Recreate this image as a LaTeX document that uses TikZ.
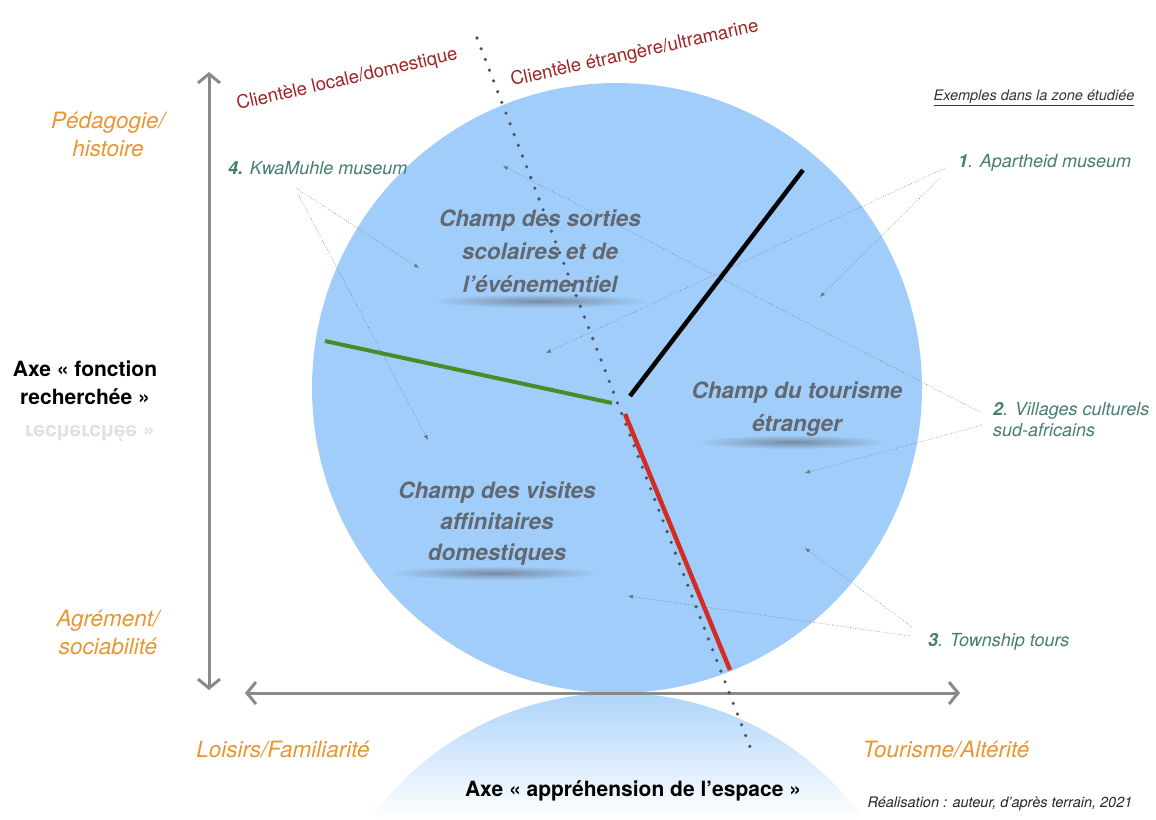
\documentclass[tikz,border=0pt]{standalone}
\usepackage{fontspec}
\setmainfont{TeX Gyre Heros}
\usetikzlibrary{arrows.meta,shapes.geometric}
\definecolor{circ}{RGB}{160,205,250}
\definecolor{axisgray}{RGB}{138,138,138}
\definecolor{dotc}{RGB}{75,85,95}
\definecolor{orangec}{RGB}{232,150,50}
\definecolor{clientc}{RGB}{160,35,35}
\definecolor{tealc}{RGB}{70,125,115}
\definecolor{champc}{RGB}{98,104,114}
\definecolor{greenl}{RGB}{70,140,40}
\definecolor{redl}{RGB}{210,45,35}
\definecolor{thinc}{RGB}{110,115,120}
\begin{document}
\begin{tikzpicture}[x=1pt,y=-1pt,
  axisline/.style={draw=axisgray,line width=3pt,{Straight Barb[length=9pt,width=22pt,line width=3pt]}-{Straight Barb[length=9pt,width=22pt,line width=3pt]}},
  dotline/.style={draw=dotc,line width=3.6pt,line cap=round,dash pattern=on 0pt off 11.5pt},
  pointer/.style={draw=thinc,line width=0.6pt,dotted,-{Latex[length=5pt,width=4pt]}},
  clientlbl/.style={text=clientc,font=\fontsize{18.5}{22}\selectfont,anchor=base west,inner sep=0pt},
  poletxt/.style={text=orangec,font=\fontsize{22.5}{28}\selectfont\itshape,align=center},
  example/.style={text=tealc,font=\fontsize{18}{21}\selectfont\itshape,align=left,anchor=west,inner sep=0pt},
  champ/.style={text=champc,font=\fontsize{22.5}{33}\selectfont\bfseries\itshape,align=center},
  axelbl/.style={text=black,font=\fontsize{21}{28}\selectfont\bfseries,align=center},
  shadowell/.style={inner color=champc!65!circ,outer color=circ}
]
\useasboundingbox (0,0) rectangle (1156,819);

% reflection of the disc below the horizontal axis
\begin{scope}
  \clip (617,998) circle (305pt);
  \shade[top color=circ!85,bottom color=white] (300,694) rectangle (940,819);
\end{scope}

% main disc
\node[circle,fill=circ,minimum size=610pt,inner sep=0pt] (disc) at (617,388) {};

% shadows under the field titles
\shade[shadowell] (540,301) ellipse (110pt and 7pt);
\shade[shadowell] (792,442) ellipse (95pt and 7pt);
\shade[shadowell] (495,573) ellipse (105pt and 7pt);

% axes
\coordinate (vtop) at (209,72);
\coordinate (vbot) at (209,690);
\coordinate (hleft) at (245,693);
\coordinate (hright) at (960,693);
\draw[axisline] (vbot) -- (vtop);
\draw[axisline] (hleft) -- (hright);

% dotted separator
\coordinate (dtop) at (477,38);
\coordinate (dbot) at (752,752);
\draw[dotline] (dtop) -- (dbot);

% coloured field boundaries
\coordinate (bk1) at (630,396);
\coordinate (bk2) at (803,170);
\coordinate (gr1) at (325,341);
\coordinate (gr2) at (612,403);
\coordinate (rd1) at (625,414);
\coordinate (rd2) at (730,670);
\draw[black,line width=4.5pt] (bk1) -- (bk2);
\draw[greenl,line width=4pt] (gr1) -- (gr2);
\draw[redl,line width=4.5pt] (rd1) -- (rd2);

% clientele labels
\node[clientlbl,rotate=13] (cloc) at (238,110) {Clientèle locale/domestique};
\node[clientlbl,rotate=12.5] (cetr) at (512,86) {Clientèle étrangère/ultramarine};

% pole labels
\node[poletxt] (peda) at (108,134) {Pédagogie/\\histoire};
\node[poletxt] (agre) at (108,632) {Agrément/\\sociabilité};
\node[poletxt] (lois) at (283,750) {Loisirs/Familiarité};
\node[poletxt] (tour) at (946,750) {Tourisme/Altérité};

% axis labels
\node[axelbl] (axf) at (85,383) {Axe « fonction\\recherchée »};
\node[axelbl,text=black!12,yscale=-1] (axfr) at (90,433) {recherchée »};
\node[axelbl] (axe) at (633,791) {Axe « appréhension de l’espace »};

% field titles
\node[champ] (cs) at (540,251) {Champ des sorties\\scolaires et de\\l’événementiel};
\node[champ] (ct) at (797,409) {Champ du tourisme\\étranger};
\node[champ,font=\fontsize{22.5}{31}\selectfont\bfseries\itshape] (cv) at (497,524) {Champ des visites\\affinitaires\\domestiques};

% examples
\node[font=\fontsize{14.5}{16}\selectfont\itshape,text=black!80] (exh) at (1034,98) {\underline{Exemples dans la zone étudiée}};
\node[example] (ex4) at (228,168) {\textbf{4.} KwaMuhle museum};
\node[example] (ex1) at (958,163) {\textbf{1}. Apartheid museum};
\node[example] (ex2) at (993,420) {\textbf{2}. Villages culturels\\sud-africains};
\node[example] (ex3) at (928,642) {\textbf{3}. Township tours};
\node[font=\fontsize{14.5}{16}\selectfont\itshape,text=black!85] (real) at (1000,804) {Réalisation : auteur, d’après terrain, 2021};

% pointers
\coordinate (p4a) at (296,188);
\coordinate (p4b) at (298,194);
\coordinate (t4a) at (419,268);
\coordinate (t4b) at (428,440);
\draw[pointer] (p4a) -- (t4a);
\draw[pointer] (p4b) -- (t4b);

\coordinate (p1a) at (945,168);
\coordinate (p1b) at (940,178);
\coordinate (t1a) at (546,353);
\coordinate (t1b) at (820,297);
\draw[pointer] (p1a) -- (t1a);
\draw[pointer] (p1b) -- (t1b);

\coordinate (p2a) at (980,412);
\coordinate (p2b) at (982,425);
\coordinate (t2a) at (503,166);
\coordinate (t2b) at (805,473);
\draw[pointer] (p2a) -- (t2a);
\draw[pointer] (p2b) -- (t2b);

\coordinate (p3a) at (910,636);
\coordinate (p3b) at (912,627);
\coordinate (t3a) at (628,596);
\coordinate (t3b) at (805,548);
\draw[pointer] (p3a) -- (t3a);
\draw[pointer] (p3b) -- (t3b);
\end{tikzpicture}
\end{document}
